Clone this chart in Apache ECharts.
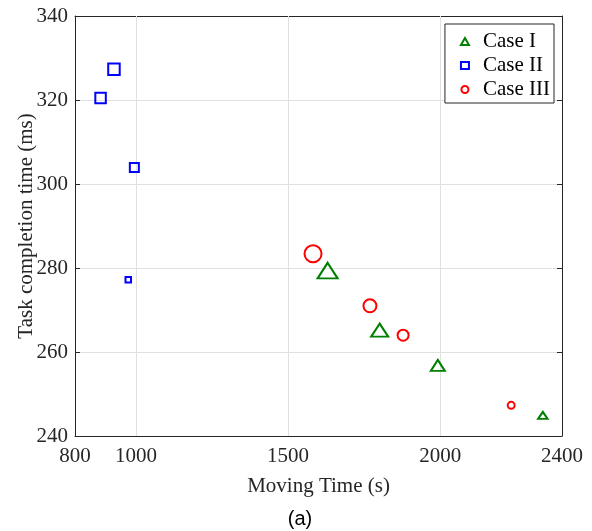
<!DOCTYPE html>
<html>
<head>
<meta charset="utf-8">
<script src="https://cdn.jsdelivr.net/npm/echarts@6/dist/echarts.min.js"></script>
<style>
  html, body { margin: 0; padding: 0; background: #fff; }
  #chart { width: 592px; height: 531px; }
</style>
</head>
<body>
<div id="chart"></div>
<script>
// Moving time (s) vs. task completion time (ms) for three cases
const caseIMoving = [1630, 1801, 1992, 2337];
const caseITask = [279.4, 265.2, 256.8, 244.9];

const caseIIMoving = [928, 884, 995, 975];
const caseIITask = [327.3, 320.5, 303.9, 277.2];

const caseIIIMoving = [1582, 1769, 1878, 2233];
const caseIIITask = [283.4, 271.0, 264.0, 247.3];

const xTicks = [800, 1000, 1500, 2000, 2400];
const xGridTicks = [1000, 1500, 2000];
const yTicks = [240, 260, 280, 300, 320, 340];

// marker sizes (px) per point
const caseISizes = [[20, 15.5], [17, 13], [14, 11], [9.5, 7]];
const caseIISizes = [11.5, 10.5, 9, 5.5];
const caseIIISizes = [17, 13, 11, 7];

const serif = "'Liberation Serif', 'Times New Roman', serif";
const ink = '#262626';
const gridGray = '#e0e0e0';
const fs = 21;

function pairs(xs, ys) { return xs.map((x, i) => [x, ys[i]]); }

const chart = echarts.init(document.getElementById('chart'), null, { renderer: 'canvas' });

chart.setOption({
  backgroundColor: '#ffffff',
  animation: false,
  grid: { left: 75, right: 30, top: 16, bottom: 95, containLabel: false, outerBoundsMode: 'none' },
  legend: {
    orient: 'vertical',
    right: 38,
    top: 24,
    backgroundColor: '#ffffff',
    borderColor: ink,
    borderWidth: 1,
    padding: [7, 4, 3, 15],
    itemGap: 3,
    itemWidth: 8,
    itemHeight: 7,
    textStyle: { fontFamily: serif, fontSize: fs, color: '#000', padding: [0, 0, 0, 9] },
    data: ['Case I', 'Case II', 'Case III']
  },
  xAxis: [{
    type: 'value',
    min: 800,
    max: 2400,
    name: 'Moving Time (s)',
    nameLocation: 'middle',
    nameGap: 40,
    nameMoveOverlap: false,
    nameTextStyle: { fontFamily: serif, fontSize: fs, color: ink },
    axisLine: { show: true, lineStyle: { color: ink, width: 1 } },
    axisTick: { show: true, inside: true, length: 5, customValues: xTicks, lineStyle: { color: ink } },
    axisLabel: {
      customValues: xTicks,
      formatter: v => String(v),
      fontFamily: serif, fontSize: fs, color: ink, margin: 10
    },
    splitLine: { show: false }
  }, {
    type: 'value',
    position: 'top',
    min: 800,
    max: 2400,
    axisLine: { show: true, onZero: false, lineStyle: { color: ink, width: 1 } },
    axisTick: { show: true, inside: true, length: 5, customValues: xTicks, lineStyle: { color: ink } },
    axisLabel: { show: false },
    splitLine: { show: false }
  }],
  yAxis: [{
    type: 'value',
    min: 240,
    max: 340,
    interval: 20,
    name: 'Task completion time (ms)',
    nameLocation: 'middle',
    nameGap: 38,
    nameMoveOverlap: false,
    nameTextStyle: { fontFamily: serif, fontSize: fs, color: ink },
    axisLine: { show: true, lineStyle: { color: ink, width: 1 } },
    axisTick: { show: true, inside: true, length: 5, lineStyle: { color: ink } },
    axisLabel: { formatter: v => String(v), fontFamily: serif, fontSize: fs, color: ink, margin: 7 },
    splitLine: { show: true, lineStyle: { color: gridGray, width: 1 } }
  }, {
    type: 'value',
    position: 'right',
    min: 240,
    max: 340,
    interval: 20,
    axisLine: { show: true, onZero: false, lineStyle: { color: ink, width: 1 } },
    axisTick: { show: true, inside: true, length: 5, lineStyle: { color: ink } },
    axisLabel: { show: false },
    splitLine: { show: false }
  }],
  graphic: [{
    type: 'text',
    x: 300,
    y: 519,
    style: {
      text: '(a)',
      font: "20px 'Liberation Sans', Arial, sans-serif",
      fill: '#000',
      textAlign: 'center',
      textVerticalAlign: 'middle'
    }
  }],
  series: [{
    name: 'Case I',
    type: 'scatter',
    symbol: 'triangle',
    symbolSize: (v, p) => caseISizes[p.dataIndex],
    itemStyle: { color: 'rgba(0,0,0,0)', borderColor: '#008000', borderWidth: 2, opacity: 1 },
    data: pairs(caseIMoving, caseITask),
    z: 5,
    // vertical grid lines at the labelled x ticks
    markLine: {
      silent: true,
      symbol: 'none',
      label: { show: false },
      lineStyle: { color: gridGray, width: 1, type: 'solid' },
      data: xGridTicks.map(v => ({ xAxis: v })),
      z: 1
    }
  }, {
    name: 'Case II',
    type: 'scatter',
    symbol: 'rect',
    symbolSize: (v, p) => caseIISizes[p.dataIndex],
    itemStyle: { color: 'rgba(0,0,0,0)', borderColor: '#0000ff', borderWidth: 2, opacity: 1 },
    data: pairs(caseIIMoving, caseIITask),
    z: 5
  }, {
    name: 'Case III',
    type: 'scatter',
    symbol: 'circle',
    symbolSize: (v, p) => caseIIISizes[p.dataIndex],
    itemStyle: { color: 'rgba(0,0,0,0)', borderColor: '#ff0000', borderWidth: 2, opacity: 1 },
    data: pairs(caseIIIMoving, caseIIITask),
    z: 5
  }]
});
</script>
</body>
</html>
